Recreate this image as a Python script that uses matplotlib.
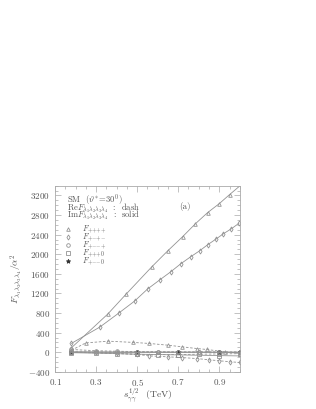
import matplotlib
matplotlib.use("Agg")
import matplotlib.pyplot as plt
from matplotlib.ticker import FixedLocator, MultipleLocator

plt.rcParams.update({
    "font.family": "serif", "font.serif": ["cmr10", "DejaVu Serif"],
    "mathtext.fontset": "cm", "axes.formatter.use_mathtext": True,
    "font.size": 6,
})

TXT = "#555555"
LN = "#939393"

# Im parts (solid)
im_pppp_x = [0.18, 0.357, 0.445, 0.571, 0.649, 0.721, 0.784, 0.843, 0.90, 0.95, 1.0]
im_pppp_y = [90, 779, 1180, 1742, 2070, 2357, 2624, 2850, 3034, 3218, 3395]
im_pmpm_x = [0.18, 0.318, 0.411, 0.488, 0.551, 0.61, 0.663, 0.712, 0.76, 0.804,
             0.843, 0.886, 0.92, 0.959, 0.995]
im_pmpm_y = [180, 512, 800, 1045, 1291, 1476, 1640, 1804, 1947, 2070,
             2193, 2316, 2419, 2521, 2630]
low_x = [0.18, 0.30, 0.40, 0.50, 0.60, 0.70, 0.80, 0.90, 1.0]
im_pmmp_y = [10, 8, 6, 5, 5, 4, 4, 3, 3]
im_ppp0_y = [-10, -20, -30, -40, -48, -55, -62, -70, -76]
im_pmm0_y = [0, 0, 0, 0, 0, 0, 0, 0, 0]

# Re parts (dashed)
re_pppp_x = [0.18, 0.25, 0.36, 0.48, 0.56, 0.65, 0.72, 0.79, 0.84, 0.93, 1.0]
re_pppp_y = [40, 190, 225, 200, 178, 143, 109, 75, 55, 6, -27]
re_pmpm_x = [0.18, 0.30, 0.40, 0.50, 0.56, 0.65, 0.72, 0.79, 0.85, 0.90, 0.95, 1.0]
re_pmpm_y = [0, -5, -20, -45, -75, -95, -110, -130, -155, -175, -195, -210]
re_pmmp_y = [55, 30, 20, 12, 8, 6, 5, 4, 4]
re_ppp0_y = [0, -15, -30, -45, -50, -48, -42, -35, -30]
re_pmm0_y = [5, 3, 2, 1, 0, 0, 0, 0, 0]

legend_marks = ["^", "d", "o", "s", "*"]
legend_labels = [r"$F_{{+}{+}{+}{+}}$", r"$F_{{+}{-}{+}{-}}$", r"$F_{{+}{-}{-}{+}}$",
                 r"$F_{{+}{+}{+}0}$", r"$F_{{+}{-}{-}0}$"]

fig = plt.figure(figsize=(3.16, 4.09), dpi=100)
ax = fig.add_axes([0.174, 0.091, 0.585, 0.455])

mk = dict(color=LN, lw=0.6, ms=2.6, mfc="none", mew=0.6)
ax.plot(im_pppp_x, im_pppp_y, "-", marker="^", markevery=list(range(len(im_pppp_x) - 1)), **mk)
ax.plot(im_pmpm_x, im_pmpm_y, "-", marker="d", **mk)
ax.plot(low_x, im_pmmp_y, "-", marker="o", **mk)
ax.plot(low_x, im_ppp0_y, "-", marker="s", markevery=[0, 3, 5, 7], **mk)
ax.plot(low_x, im_pmm0_y, "-", color=LN, lw=0.6, marker="*", ms=3.2, mfc="#333333",
        mec="#333333", markevery=[0, 3, 5, 7, 8])

ax.plot(re_pppp_x, re_pppp_y, "--", marker="^", dashes=(3, 2), **mk)
ax.plot(re_pmpm_x, re_pmpm_y, "--", marker="d", dashes=(3, 2), **mk)
ax.plot(low_x, re_pmmp_y, "--", marker="o", dashes=(3, 2), **mk)
ax.plot(low_x, re_ppp0_y, "--", marker="s", dashes=(3, 2), **mk)
ax.plot(low_x, re_pmm0_y, "--", color=LN, lw=0.6, dashes=(3, 2))

ax.set_xlim(0.1, 1.0)
ax.set_ylim(-400, 3400)
ax.xaxis.set_major_locator(FixedLocator([0.1, 0.3, 0.5, 0.7, 0.9]))
ax.xaxis.set_minor_locator(MultipleLocator(0.05))
ax.yaxis.set_major_locator(MultipleLocator(400))
ax.yaxis.set_minor_locator(MultipleLocator(100))
ax.tick_params(which="both", direction="in", top=True, right=True, colors="#aaaaaa",
               labelcolor=TXT, labelsize=6.5, width=0.5)
ax.tick_params(which="major", length=4)
ax.tick_params(which="minor", length=2)
for s in ax.spines.values():
    s.set_color("#aaaaaa")
    s.set_linewidth(0.6)

ax.set_xlabel(r"$s_{\gamma\gamma}^{1/2}$  (TeV)", color=TXT, fontsize=7, labelpad=-0.5)
ax.set_ylabel(r"$F_{\lambda_1\lambda_2\lambda_3\lambda_4}/\alpha^2$", color=TXT, fontsize=7, labelpad=2)

tt = ax.transAxes
fs = 5.8
ax.text(0.063, 0.918, r"SM  ($\vartheta^{*}\!=\!30^{0}$)", transform=tt, color=TXT, fontsize=6.2, va="center")
ax.text(0.063, 0.879, r"Re$F_{\lambda_1\lambda_2\lambda_3\lambda_4}$  :  dash", transform=tt, color=TXT, fontsize=6.2, va="center")
ax.text(0.063, 0.842, r"Im$F_{\lambda_1\lambda_2\lambda_3\lambda_4}$  :  solid", transform=tt, color=TXT, fontsize=6.2, va="center")
ax.text(0.70, 0.89, "(a)", transform=tt, color=TXT, fontsize=6.5, ha="center", va="center")

leg_y = [0.767, 0.722, 0.681, 0.636, 0.595]
for m, lab, yy in zip(legend_marks, legend_labels, leg_y):
    filled = m == "*"
    ax.plot([0.07], [yy], marker=m, transform=tt, ms=3.2 if filled else 2.6,
            mfc="#333333" if filled else "none", mec="#333333" if filled else LN, mew=0.6)
    ax.text(0.146, yy, lab, transform=tt, color=TXT, fontsize=fs, va="center")

fig.savefig("out.png", dpi=100)
